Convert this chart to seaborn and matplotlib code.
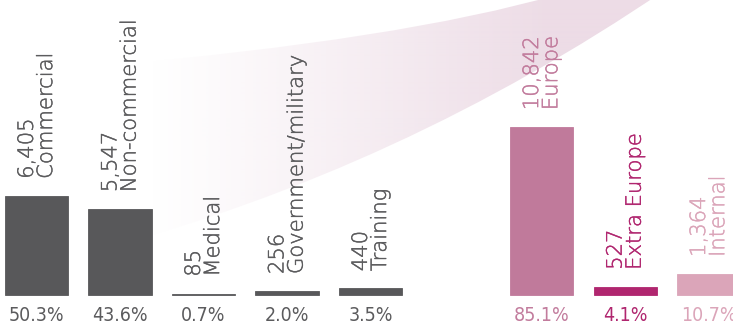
import numpy as np
import pandas as pd
import matplotlib
matplotlib.use("Agg")
import matplotlib.pyplot as plt
import matplotlib.patheffects as pe
from matplotlib.path import Path
from matplotlib.patches import PathPatch
import seaborn as sns

# Licences by purpose (grey) and by destination (pink)
categories = ["Commercial", "Non-commercial", "Medical", "Government/military",
              "Training", "Europe", "Extra Europe", "Internal"]
counts = [6405, 5547, 85, 256, 440, 10842, 527, 1364]
shares = [50.3, 43.6, 0.7, 2.0, 3.5, 85.1, 4.1, 10.7]

# slot of each bar along the x axis (second group after a gap)
slots = [0, 1, 2, 3, 4, 6.05, 7.05, 8.05]
bar_colors = ["#58585a"] * 5 + ["#c07a9b", "#b0266f", "#dba5b9"]
label_colors = ["#5b5b5d"] * 5 + ["#c27c9d", "#b0266f", "#dba5b9"]

df = pd.DataFrame({"category": categories, "count": counts,
                   "share": shares, "slot": slots})

sns.set_theme(style="white")
plt.rcParams["font.family"] = ["DejaVu Sans"]

W, H = 733, 325
fig = plt.figure(figsize=(W / 100, H / 100), dpi=100)
fig.patch.set_facecolor("white")

# --- soft pink flow band in the background (pixel coordinates) ---
bg = fig.add_axes([0, 0, 1, 1], zorder=0)
bg.set_xlim(0, W)
bg.set_ylim(H, 0)
bg.axis("off")

band = Path(
    [(100, 66), (400, 40), (560, -6),
     (665, -10),
     (400, 170), (100, 250),
     (100, 66)],
    [Path.MOVETO, Path.CURVE3, Path.CURVE3,
     Path.LINETO,
     Path.CURVE3, Path.CURVE3,
     Path.CLOSEPOLY])
patch = PathPatch(band, facecolor="none", edgecolor="none")
bg.add_patch(patch)

xs = np.arange(W)
alpha = np.clip((xs - 150) / 400.0, 0, 1) ** 1.1
grad = np.zeros((2, W, 4))
grad[..., 0] = 237 / 255
grad[..., 1] = 220 / 255
grad[..., 2] = 230 / 255
grad[..., 3] = alpha[None, :]
img = bg.imshow(grad, extent=[0, W, H, 0], aspect="auto", interpolation="bilinear")
img.set_clip_path(patch)

# --- bars ---
px_per_unit = 0.01548          # vertical pixels per licence
baseline_px = 295              # baseline, pixels from the top
ax = fig.add_axes([0, 0, 1, 1], zorder=1)
ax.patch.set_alpha(0)

sns.barplot(data=df, x="slot", y="count", hue="category",
            palette=dict(zip(categories, bar_colors)), saturation=1,
            native_scale=True, dodge=False, width=0.755,
            linewidth=0, legend=False, ax=ax)
for bar in ax.patches:
    bar.set_edgecolor(bar.get_facecolor())
    bar.set_linewidth(0.6)

x_px0 = 36.5                   # centre of first bar in pixels
slot_px = 83.5
ax.set_xlim(-x_px0 / slot_px, (W - x_px0) / slot_px)
ax.set_ylim(-(H - baseline_px) / px_per_unit, baseline_px / px_per_unit)
ax.axis("off")

gap = 17 / px_per_unit
pct_y = -(315.5 - baseline_px) / px_per_unit
for cat, n, sh, sl, col in zip(categories, counts, shares, slots, label_colors):
    ax.text(sl, n + gap, f"{n:,}\n{cat}", rotation=90, ha="center", va="bottom",
            multialignment="left", color=col, fontsize=15.2, fontweight=200,
            linespacing=0.95,
            path_effects=[pe.withStroke(linewidth=0.3, foreground=col)])
    ax.text(sl, pct_y, f"{sh:.1f}%", ha="center", va="center", color=col,
            fontsize=14, fontstretch="condensed", family=["DejaVu Sans"])

fig.savefig("out.png", dpi=100, facecolor="white")
